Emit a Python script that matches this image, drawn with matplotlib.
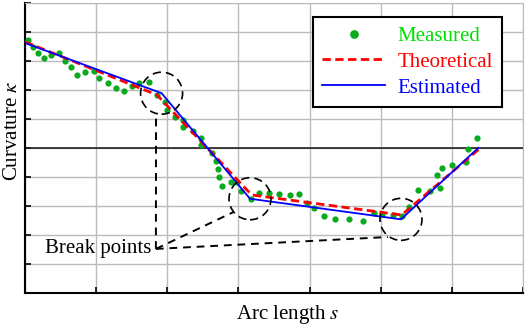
import matplotlib
matplotlib.use('Agg')
import matplotlib.pyplot as plt
from matplotlib.patches import Ellipse
import numpy as np

# measured curvature samples
s_meas = [0.042, 0.112, 0.183, 0.267, 0.365, 0.478, 0.562, 0.647, 0.738, 0.850,
          0.970, 1.040, 1.167, 1.279, 1.391, 1.504, 1.609, 1.743, 1.855, 1.968,
          1.996, 2.108, 2.221, 2.228, 2.362, 2.467, 2.481, 2.629, 2.685, 2.713,
          2.731, 2.776, 2.896, 2.987, 3.032, 3.173, 3.296, 3.430, 3.570, 3.725,
          3.856, 3.957, 4.062, 4.196, 4.358, 4.554, 4.751, 4.899, 5.025, 5.166,
          5.299, 5.398, 5.529, 5.693, 5.798, 5.834, 5.862, 6.006, 6.196, 6.231,
          6.357]
k_meas = [3.72, 3.48, 3.28, 3.10, 3.21, 3.28, 3.00, 2.78, 2.53, 2.62,
          2.64, 2.43, 2.24, 2.07, 1.97, 2.14, 2.24, 2.26, 1.81, 1.57,
          1.31, 1.07, 0.97, 0.72, 0.59, 0.34, 0.09, -0.19, -0.45, -0.72,
          -1.01, -1.31, -1.17, -1.19, -1.48, -1.77, -1.55, -1.55, -1.60, -1.62,
          -1.58, -1.88, -2.08, -2.34, -2.46, -2.46, -2.51, -2.24, -2.29, -2.31,
          -2.33, -2.05, -1.46, -1.48, -0.93, -1.38, -0.69, -0.59, -0.47, -0.04,
          0.36]

s_theo = [0.0, 1.855, 3.187, 5.295, 6.40]
k_theo = [3.66, 1.83, -1.62, -2.31, 0.0]

s_est = [0.0, 1.92, 3.163, 5.285, 6.37]
k_est = [3.62, 1.89, -1.75, -2.46, 0.0]

plt.rcParams['font.family'] = ['Liberation Serif', 'DejaVu Serif']
plt.rcParams['mathtext.fontset'] = 'stix'

fig = plt.figure(figsize=(5.26, 3.25), dpi=100)
ax = fig.add_axes([0.0475, 0.0985, 0.9468, 0.8923])

ax.set_xlim(0, 7)
ax.set_ylim(-5, 5)
ax.set_xticks(np.arange(0, 8))
ax.set_yticks(np.arange(-5, 6))
ax.set_xticklabels([])
ax.set_yticklabels([])
ax.tick_params(direction='in', length=4, width=1.2, top=False, right=False)
ax.grid(True, color='#bbbbbb', lw=1)
ax.set_axisbelow(True)
for side in ('top', 'right'):
    ax.spines[side].set_color('#bbbbbb')
for side in ('left', 'bottom'):
    ax.spines[side].set_linewidth(1.5)
ax.axhline(0, color='#222222', lw=1.2, zorder=1)

ax.plot(s_meas, k_meas, 'o', color='#0aaa1e', ms=4.5, mec='none', label='Measured', zorder=3)
ax.plot(s_theo, k_theo, '--', color='red', lw=2.0, dashes=(3, 1.6), label='Theoretical', zorder=4)
ax.plot(s_est, k_est, '-', color='blue', lw=1.3, label='Estimated', zorder=5)

# break point circles (21 px radius)
rx, ry = 21 / 71.14, 21 / 29.0
for bx, by in zip(s_est[1:4], k_est[1:4]):
    ax.add_patch(Ellipse((bx, by), 2 * rx, 2 * ry, fill=False,
                         ls=(0, (5, 3)), lw=1.2, color='black', zorder=6))

tx, ty = 1.84, -3.48
ax.plot([tx, 1.842], [ty, 1.20], '--', color='black', lw=1.4, dashes=(4, 3), zorder=6)
ax.plot([tx, 2.93], [ty, -2.21], '--', color='black', lw=1.4, dashes=(4, 3), zorder=6)
ax.plot([tx, 5.10], [ty, -3.07], '--', color='black', lw=1.4, dashes=(4, 3), zorder=6)
ax.text(1.77, -3.45, 'Break points', ha='right', va='center', fontsize=15)

ax.set_xlabel('Arc length $s$', fontsize=15)
ax.xaxis.set_label_coords(0.528, -0.035, transform=ax.transAxes)
ax.xaxis.label.set_va('top')
ax.set_ylabel('Curvature $\\kappa$', fontsize=15)
ax.yaxis.set_label_coords(-0.006, 0.56, transform=ax.transAxes)

leg = ax.legend(loc='upper right', bbox_to_anchor=(0.958, 0.952), fancybox=False,
                edgecolor='black', framealpha=1, fontsize=15, handlelength=3.0,
                labelcolor=['#00e000', 'red', 'blue'], borderpad=0.45,
                labelspacing=0.3, handletextpad=0.6, markerscale=1.4,
                borderaxespad=0)
leg.get_frame().set_linewidth(1.5)

fig.savefig('out.png', dpi=100)
